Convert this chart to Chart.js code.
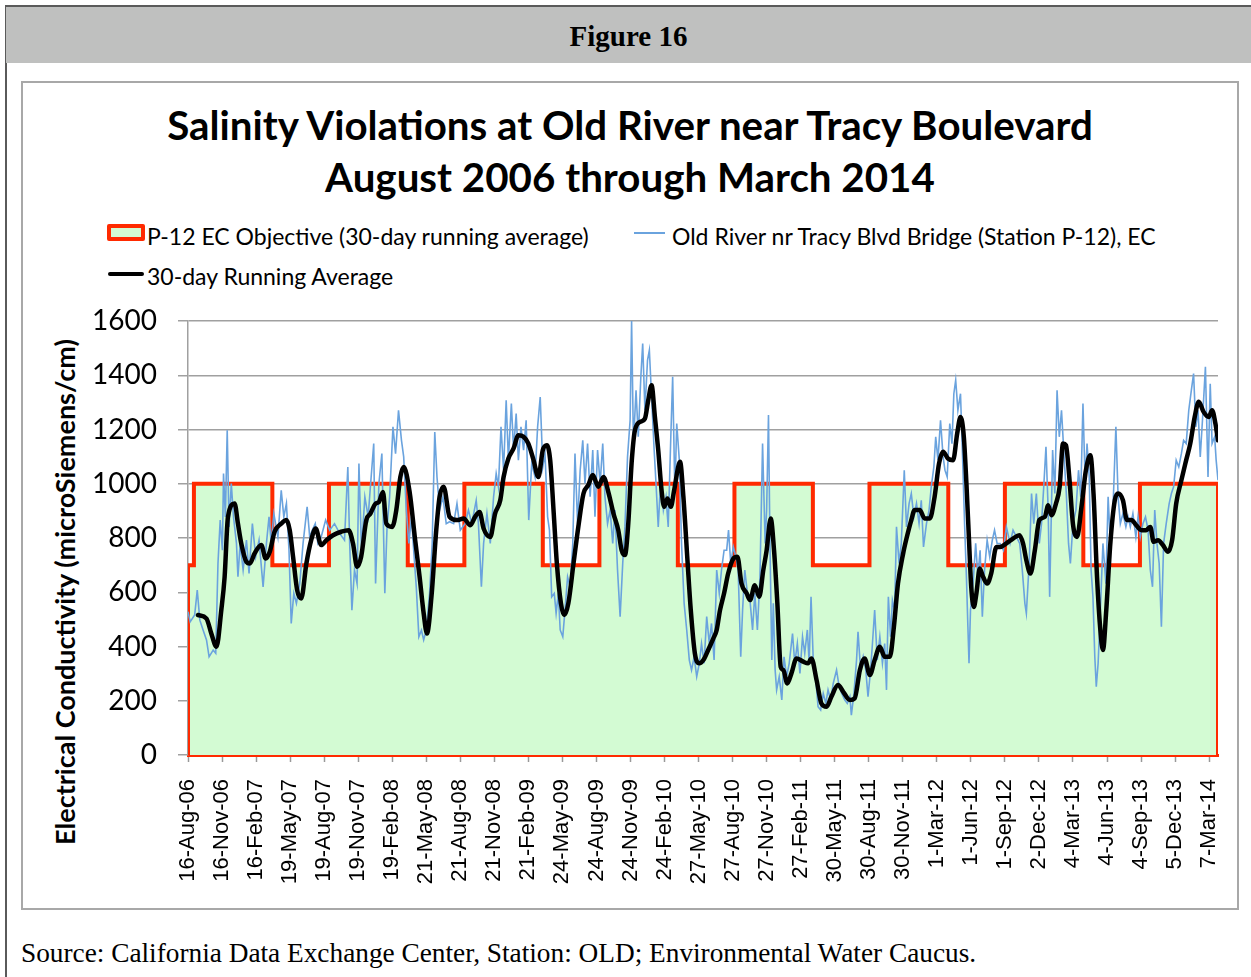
<!DOCTYPE html>
<html>
<head>
<meta charset="utf-8">
<title>Figure 16</title>
<script src="https://cdn.jsdelivr.net/npm/chart.js@4.4.1/dist/chart.umd.min.js"></script>
<style>
body{margin:0;background:#fff;width:1251px;height:977px;overflow:hidden;position:relative;font-family:Lato,sans-serif;color:#000;}
#head{position:absolute;left:6px;top:5px;width:1245px;height:58px;background:#bfc0bf;border-top:2px solid #5a5a5a;box-sizing:border-box;
  font:bold 29px "Liberation Serif",serif;text-align:center;line-height:58px;}
#side{position:absolute;left:5px;top:5px;width:2px;height:972px;background:#5a5a5a;}
#frame{position:absolute;left:21px;top:81px;width:1218px;height:829px;border:2px solid #a8a8a8;box-sizing:border-box;}
.title{position:absolute;left:21px;width:1218px;text-align:center;font-weight:bold;font-size:40.3px;line-height:46px;}
.leg{position:absolute;font-size:23px;line-height:24px;white-space:nowrap;}
#ytitle{position:absolute;left:-235px;top:577px;width:600px;text-align:center;font-weight:bold;font-size:27px;line-height:30px;transform:rotate(-90deg);}
#source{position:absolute;left:21px;top:938px;font:27.3px "Liberation Serif",serif;white-space:nowrap;}
canvas{position:absolute;left:0;top:0;}
</style>
</head>
<body>
<div id="side"></div>
<div id="head">Figure 16</div>
<div id="frame"></div>
<div class="title" style="top:102px">Salinity Violations at Old River near Tracy Boulevard</div>
<div class="title" style="top:154px">August 2006 through March 2014</div>

<div class="leg" style="left:107px;top:224px;width:38px;height:17px;background:#d3fbd3;border:4px solid #ff2a00;box-sizing:border-box;border-radius:2px"></div>
<div class="leg" style="left:147px;top:224px">P-12 EC Objective (30-day running average)</div>
<div class="leg" style="left:634px;top:232px;width:31px;height:2px;background:rgb(106,163,222)"></div>
<div class="leg" style="left:672px;top:224px">Old River nr Tracy Blvd Bridge (Station P-12), EC</div>
<div class="leg" style="left:108px;top:272px;width:36px;height:4px;background:#000;border-radius:2px"></div>
<div class="leg" style="left:147px;top:264px">30-day Running Average</div>

<div id="ytitle">Electrical Conductivity (microSiemens/cm)</div>
<div id="source">Source: California Data Exchange Center, Station: OLD; Environmental Water Caucus.</div>

<canvas id="myChart" width="1251" height="977"></canvas>

<script>
// days are counted from 16-Aug-06
var startDate = '2006-08-16';
var endDate = '2014-03-31';

var tickLabels = ['16-Aug-06','16-Nov-06','16-Feb-07','19-May-07','19-Aug-07','19-Nov-07','19-Feb-08',
  '21-May-08','21-Aug-08','21-Nov-08','21-Feb-09','24-May-09','24-Aug-09','24-Nov-09','24-Feb-10',
  '27-May-10','27-Aug-10','27-Nov-10','27-Feb-11','30-May-11','30-Aug-11','30-Nov-11','1-Mar-12',
  '1-Jun-12','1-Sep-12','2-Dec-12','4-Mar-13','4-Jun-13','4-Sep-13','5-Dec-13','7-Mar-14'];

// P-12 objective, value holds from each date until the next one
var objDates = ['2006-08-16','2006-09-01','2007-04-01','2007-09-01','2008-04-01','2008-09-01','2009-04-01',
  '2009-09-01','2010-04-01','2010-09-01','2011-04-01','2011-09-01','2012-04-01','2012-09-01','2013-04-01','2013-09-01'];
var objValues = [700,1000,700,1000,700,1000,700,1000,700,1000,700,1000,700,1000,700,1000];

// daily EC
var ecDays = [0,6,18,25,32,41,50,57,68,75,81,87,93,96,101,106,111,117,123,131,135,141,149,158,165,174,183,192,203,212,
  219,225,232,243,252,259,266,273,279,286,293,302,311,322,329,336,344,351,360,372,383,396,410,423,432,437,443,450,457,462,
  469,478,487,493,502,507,516,524,532,538,545,554,561,569,577,583,590,597,604,610,617,624,631,637,644,653,660,667,673,680,
  689,698,707,718,727,736,749,758,767,779,785,793,799,808,817,826,833,839,846,853,860,866,874,880,887,893,900,907,914,921,
  929,938,945,952,959,965,972,977,983,990,995,1001,1006,1013,1019,1026,1033,1040,1046,1053,1060,1067,1073,1080,1087,1094,
  1100,1107,1114,1121,1127,1134,1141,1148,1154,1161,1168,1175,1181,1188,1195,1199,1204,1211,1217,1224,1229,1235,1242,1247,
  1253,1260,1265,1271,1278,1285,1292,1298,1305,1310,1316,1321,1328,1334,1341,1348,1355,1361,1368,1375,1382,1388,1395,1402,
  1409,1415,1422,1429,1436,1442,1449,1456,1461,1467,1474,1481,1487,1494,1499,1505,1512,1519,1526,1532,1539,1546,1553,1560,
  1564,1569,1573,1578,1582,1587,1591,1598,1605,1611,1618,1625,1634,1640,1647,1654,1661,1667,1674,1679,1684,1690,1697,1703,
  1710,1717,1724,1730,1737,1744,1753,1760,1767,1775,1782,1789,1793,1800,1807,1811,1818,1825,1832,1838,1845,1850,1856,1863,
  1870,1877,1883,1888,1893,1899,1904,1910,1915,1922,1928,1936,1942,1949,1955,1962,1969,1976,1982,1988,1996,2003,2009,2016,
  2021,2027,2034,2041,2046,2052,2059,2065,2070,2075,2081,2088,2093,2099,2104,2108,2111,2115,2122,2129,2135,2141,2147,2153,
  2160,2167,2174,2180,2187,2195,2204,2212,2222,2230,2239,2248,2255,2262,2266,2274,2280,2286,2293,2301,2307,2313,2319,2325,
  2329,2337,2343,2349,2355,2361,2367,2374,2380,2385,2392,2400,2407,2413,2419,2425,2430,2436,2441,2446,2451,2455,2460,2466,
  2473,2481,2487,2493,2500,2508,2514,2520,2527,2535,2541,2547,2554,2562,2568,2574,2581,2588,2595,2601,2607,2613,2619,2625,
  2631,2637,2644,2652,2658,2664,2671,2678,2685,2691,2698,2705,2712,2718,2724,2730,2736,2742,2745,2750,2757,2763,2768,2775,
  2779,2784];
var ecValues = [528,491,516,608,497,460,424,362,387,375,706,866,755,1038,878,1197,841,1001,878,780,657,780,682,792,669,853,731,792,620,780,
  878,780,890,804,976,878,927,755,485,596,559,632,780,915,804,829,853,780,804,866,829,853,817,792,1062,780,534,682,632,1075,
  755,952,878,989,1148,632,1001,1111,596,841,952,1210,1111,1271,1160,1099,903,780,878,755,620,436,460,424,460,596,780,1191,1025,903,
  952,853,860,853,927,829,853,903,853,939,853,620,780,890,780,952,1038,989,1210,1050,1308,1087,1296,1124,1259,1087,1210,1124,1234,866,
  1075,1025,1210,1320,1062,1111,878,829,583,596,522,596,461,436,534,657,620,780,1111,853,1050,1160,1001,1148,952,1124,
  878,1124,1001,1148,952,853,903,780,903,682,510,706,841,1099,1234,1600,1148,1345,1173,1394,1517,1271,1455,1492,
  1320,1124,1001,841,1025,903,952,841,1173,1394,964,1222,1087,780,559,461,350,313,362,289,338,411,338,510,
  411,485,350,682,596,682,755,755,829,706,767,731,682,362,534,682,596,570,461,596,461,657,1148,780,
  903,1253,780,350,559,313,240,289,203,362,289,338,448,338,411,301,436,375,461,338,583,350,276,178,
  166,227,190,240,203,264,313,252,227,203,190,215,147,227,350,454,313,362,313,215,313,411,534,350,
  436,338,411,240,583,436,571,534,841,706,780,1050,841,927,964,878,927,853,939,767,853,903,989,1062,
  1173,1087,1234,1099,1050,1025,1222,1148,1332,1382,1271,1332,1124,853,657,473,338,534,632,780,657,755,510,682,
  792,731,792,829,780,780,755,841,780,829,804,780,682,559,522,718,964,853,964,780,853,989,1136,903,
  583,1124,964,1345,1173,1271,1124,964,780,706,853,903,1050,952,1296,1001,1148,1025,682,583,362,252,338,534,
  780,632,952,780,903,1210,952,853,890,841,878,841,890,804,878,804,853,878,829,682,620,903,780,706,
  473,780,853,927,964,989,1087,1062,1111,1160,1148,1271,1345,1406,1210,1271,1099,1234,1308,1431,1025,1369,1148,1173,
  1087,1013];

// 30-day running average
var avgDays = [27,50,63,77,90,99,108,126,135,144,158,167,180,198,210,221,234,252,266,275,284,295,306,320,333,345,360,374,392,414,
  434,446,457,468,482,493,507,516,527,536,552,563,574,583,599,613,626,637,646,658,671,680,691,707,727,745,763,776,788,799,
  817,830,844,853,866,880,893,907,920,934,947,959,970,979,988,997,1008,1017,1028,1042,1055,1069,1082,1094,1109,1123,1136,1150,
  1163,1172,1181,1190,1199,1208,1222,1235,1244,1253,1262,1271,1280,1287,1296,1305,1314,1330,1339,1350,1359,1370,1382,1393,1406,
  1420,1429,1438,1449,1460,1474,1485,1496,1510,1519,1532,1544,1555,1564,1575,1584,1593,1602,1609,1620,1631,1645,1663,1676,1685,
  1699,1712,1726,1739,1757,1771,1789,1802,1816,1829,1843,1856,1870,1883,1897,1908,1919,1933,1942,1955,1964,1978,1991,2005,2018,
  2030,2041,2054,2068,2079,2088,2097,2104,2111,2117,2124,2131,2140,2149,2160,2171,2185,2195,2212,2230,2247,2257,2266,2277,2289,
  2301,2316,2325,2334,2346,2356,2365,2373,2382,2392,2403,2415,2427,2439,2448,2457,2466,2473,2482,2493,2505,2514,2527,2538,2550,
  2563,2577,2590,2601,2610,2622,2635,2649,2660,2671,2685,2698,2709,2721,2732,2745,2759,2768,2777,2784];
var avgValues = [516,503,448,399,534,657,878,927,853,780,712,706,743,774,724,749,823,853,866,829,731,608,577,706,792,835,774,792,810,823,
  829,780,694,731,866,890,927,933,970,853,841,903,1025,1062,970,804,657,522,448,583,829,952,989,878,866,872,847,878,896,835,
  804,890,939,1025,1093,1130,1179,1173,1148,1087,1025,1124,1142,1087,903,706,559,516,559,706,841,964,995,1032,989,1025,970,890,
  829,755,737,853,1075,1197,1228,1240,1308,1363,1246,1124,976,915,946,915,976,1081,952,718,534,375,338,350,387,
  430,461,534,596,669,724,731,632,596,571,626,583,682,755,872,755,559,325,313,264,301,356,344,338,356,
  276,190,178,215,258,233,203,209,313,356,295,350,399,362,362,473,632,743,798,866,903,903,872,872,952,
  1075,1118,1093,1087,1185,1246,1173,1001,792,620,546,596,688,657,632,669,767,767,780,798,810,780,718,669,755,
  866,878,921,884,927,989,1148,1142,1025,851,804,915,1050,1105,952,657,461,387,534,780,939,964,939,866,866,
  847,829,829,841,786,792,774,749,792,927,1013,1087,1148,1246,1302,1265,1246,1271,1222,1160];

var MONTHS = {Jan:0,Feb:1,Mar:2,Apr:3,May:4,Jun:5,Jul:6,Aug:7,Sep:8,Oct:9,Nov:10,Dec:11};
var t0 = Date.parse(startDate);
function dayOf(iso) { return Math.round((Date.parse(iso) - t0) / 86400000); }
function labelDay(lbl) {
  var p = lbl.split('-');
  return Math.round((Date.UTC(2000 + parseInt(p[2], 10), MONTHS[p[1]], parseInt(p[0], 10)) - t0) / 86400000);
}
var endDay = dayOf(endDate);
var tickDays = tickLabels.map(labelDay);

function pairs(xs, ys) {
  return xs.map(function(x, i) { return {x: x, y: ys[i]}; });
}

var objPoints = [{x: 0, y: 0}];
objDates.forEach(function(d, i) { objPoints.push({x: dayOf(d), y: objValues[i]}); });
objPoints.push({x: endDay, y: objValues[objValues.length - 1]});
objPoints.push({x: endDay, y: 0});

var ctx = document.getElementById('myChart').getContext('2d');
var chart = new Chart(ctx, {
  type: 'line',
  data: {
    datasets: [{
      label: '30-day Running Average',
      data: pairs(avgDays, avgValues),
      borderColor: '#000',
      borderWidth: 4.5,
      borderJoinStyle: 'round',
      borderCapStyle: 'round',
      cubicInterpolationMode: 'monotone',
      pointRadius: 0,
      fill: false
    }, {
      label: 'Old River nr Tracy Blvd Bridge (Station P-12), EC',
      data: pairs(ecDays, ecValues),
      borderColor: 'rgb(106,163,222)',
      borderWidth: 1.6,
      tension: 0,
      pointRadius: 0,
      fill: false
    }, {
      label: 'P-12 EC Objective (30-day running average)',
      data: objPoints,
      borderColor: '#ff2a00',
      borderWidth: 4,
      backgroundColor: '#d3fbd3',
      stepped: true,
      pointRadius: 0,
      fill: 'origin'
    }]
  },
  options: {
    responsive: false,
    animation: false,
    layout: {padding: {left: 60, right: 33, top: 321, bottom: 20}},
    plugins: {legend: {display: false}, tooltip: {enabled: false}},
    scales: {
      x: {
        type: 'linear',
        min: 0,
        max: endDay,
        afterBuildTicks: function(s) { s.ticks = tickDays.map(function(v) { return {value: v}; }); },
        afterFit: function(s) {
          s.height = 977 - 755 - 20;
          // last label sits inside the plot, no extra room needed
          s.paddingLeft = 0;
          s.paddingRight = 0;
        },
        ticks: {
          autoSkip: false, maxRotation: 90, minRotation: 90, padding: 17, color: '#000',
          font: {family: 'Liberation Sans', size: 22},
          callback: function(v, i) { return tickLabels[i]; }
        },
        grid: {drawOnChartArea: false, drawTicks: true, tickLength: 7, tickColor: '#999', tickWidth: 1.5},
        border: {color: '#ff2a00', width: 3}
      },
      y: {
        min: 0,
        max: 1600,
        afterFit: function(s) { s.width = 188 - 60; },
        ticks: {
          stepSize: 200, padding: 21, color: '#000', font: {family: 'Lato', size: 28},
          callback: function(v) { return String(v); }
        },
        grid: {color: '#a0a0a0', lineWidth: 1.5, tickLength: 10},
        border: {color: '#a0a0a0', width: 1.5}
      }
    }
  }
});
</script>
</body>
</html>
